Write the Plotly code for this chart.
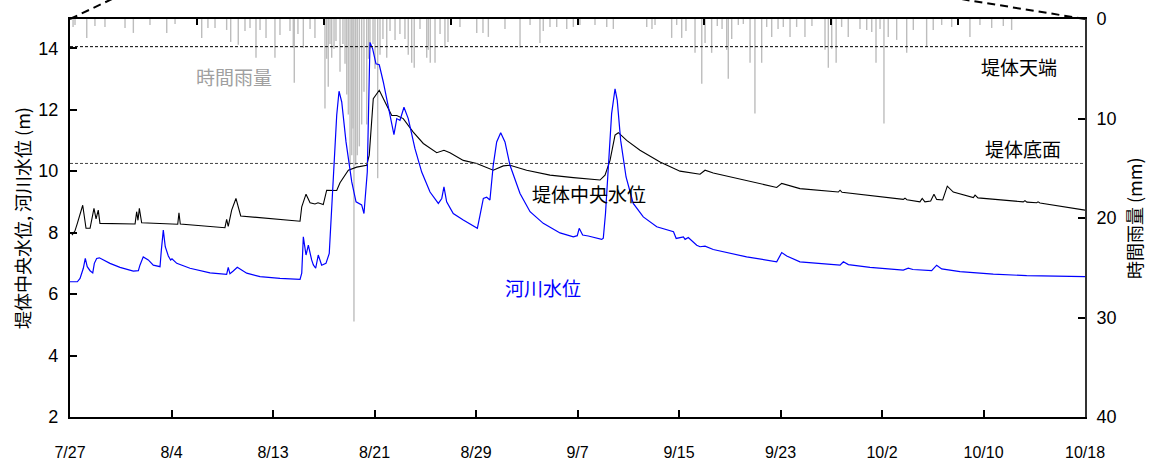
import plotly.graph_objects as go

# ---------------- data (days since 7/27 00:00) ----------------
x_tick_labels = ["7/27", "8/4", "8/13", "8/21", "8/29", "9/7", "9/15", "9/23", "10/2", "10/10", "10/18"]
period_days = 83.0

core_day = [0.16, 0.4, 0.6, 1.04, 1.31, 1.64, 1.96, 2.13, 2.31, 2.45, 5.32, 5.45, 5.56, 5.67, 5.86,
            8.81, 8.91, 9.02, 12.67, 12.81, 12.94, 13.22, 13.57, 13.84, 13.96, 18.81, 18.95, 19.30,
            19.63, 20.03, 20.28, 20.71, 20.99, 21.81, 22.08, 22.76, 23.44, 24.26, 24.47, 24.80,
            25.29, 25.76, 26.31, 26.72, 27.25, 28.07, 28.89, 29.99, 30.58, 31.07, 32.16, 33.26,
            34.61, 35.43, 35.98, 37.34, 39.25, 41.16, 43.34, 43.75, 44.16, 44.57, 44.84, 45.52,
            46.61, 48.25, 49.88, 51.52, 51.93, 52.60, 56.42, 57.79, 58.20, 59.69, 62.83, 62.97,
            63.13, 68.14, 68.28, 68.44, 69.50, 69.69, 69.91, 70.38, 70.65, 70.87, 71.36, 71.74,
            72.23, 73.87, 74.01, 74.25, 77.95, 78.09, 78.25, 79.05, 79.16, 79.32, 83.0]
core_level = [7.92, 8.05, 8.30, 8.89, 8.14, 8.14, 8.79, 8.45, 8.73, 8.30, 8.28, 8.68, 8.40, 8.79, 8.32,
              8.27, 8.64, 8.28, 8.16, 8.43, 8.20, 8.73, 9.11, 8.68, 8.54, 8.37, 8.84, 9.25,
              8.97, 8.93, 8.97, 8.91, 9.38, 9.37, 9.62, 10.03, 10.13, 10.19, 10.52, 12.36,
              12.63, 12.25, 11.81, 11.81, 11.71, 11.27, 10.90, 10.60, 10.68, 10.60, 10.35, 10.25,
              10.03, 10.17, 10.19, 10.03, 9.87, 9.79, 9.71, 9.87, 10.35, 11.17, 11.25, 11.00,
              10.68, 10.30, 10.00, 9.90, 10.03, 9.94, 9.60, 9.47, 9.60, 9.43, 9.32, 9.38,
              9.31, 9.08, 9.12, 9.07, 9.00, 9.11, 9.00, 9.03, 9.25, 9.08, 9.06, 9.51,
              9.32, 9.14, 9.22, 9.13, 9.00, 9.04, 8.99, 8.97, 9.00, 8.96, 8.73]

river_day = [0.0, 0.6, 0.82, 1.09, 1.25, 1.41, 1.64, 1.86, 1.99, 2.18, 2.40, 3.27, 4.09, 5.18, 5.59,
             5.72, 5.99, 6.40, 6.81, 7.36, 7.47, 7.63, 7.79, 8.04, 8.23, 8.34, 8.73, 9.81, 11.45,
             12.81, 12.94, 13.08, 13.35, 13.68, 14.45, 15.54, 17.17, 18.81, 18.95, 19.08, 19.30,
             19.49, 19.76, 19.90, 20.09, 20.30, 20.58, 20.93, 21.20, 21.53, 21.81, 22.00, 22.22,
             22.57, 23.04, 23.39, 23.58, 23.85, 24.04, 24.31, 24.53, 24.75, 25.02, 25.29, 25.62,
             26.17, 26.49, 26.72, 26.98, 27.31, 27.66, 28.21, 28.76, 29.44, 30.12, 30.40, 30.58,
             30.80, 31.34, 32.16, 33.12, 33.31, 33.53, 33.80, 34.07, 34.34, 34.61, 34.89, 35.22,
             35.57, 35.98, 36.80, 37.62, 38.70, 40.07, 41.16, 41.48, 41.64, 41.92, 42.38, 43.48,
             43.61, 43.79, 44.02, 44.29, 44.57, 44.75, 45.03, 45.47, 46.06, 46.88, 47.98, 49.35,
             49.57, 50.16, 50.30, 50.56, 51.25, 51.52, 51.93, 52.60, 55.33, 57.79, 58.20, 58.61,
             59.69, 62.97, 63.24, 63.65, 65.42, 68.14, 68.55, 68.93, 70.46, 70.87, 71.28, 72.78,
             75.50, 78.23, 83.0]
river_level = [6.40, 6.40, 6.51, 6.84, 7.16, 6.89, 6.76, 6.69, 7.00, 7.16, 7.18, 7.00, 6.87, 6.75, 6.76,
               6.94, 7.21, 7.11, 6.94, 6.89, 7.43, 8.08, 7.54, 7.24, 7.11, 7.15, 7.00, 6.84, 6.69,
               6.64, 6.87, 6.66, 6.75, 6.87, 6.68, 6.57, 6.51, 6.48, 6.68, 7.86, 7.27,
               7.59, 7.11, 6.95, 6.84, 7.27, 6.94, 7.00, 7.32, 9.65, 11.82, 12.60, 12.25,
               10.95, 9.65, 9.00, 8.95, 8.90, 8.62, 9.97, 14.19, 13.98, 13.49, 13.46, 12.90,
               11.81, 11.19, 11.71, 11.65, 12.08, 11.71, 10.73, 9.97, 9.32, 8.95, 9.11, 9.49,
               9.00, 8.62, 8.41, 8.19, 8.14, 8.57, 9.11, 9.15, 9.06, 10.19, 10.95, 11.25,
               10.95, 10.19, 9.27, 8.68, 8.30, 7.99, 7.86, 7.90, 8.14, 7.92, 7.89, 7.78,
               7.82, 8.62, 10.25, 11.87, 12.68, 12.30, 11.00, 9.81, 8.95, 8.51, 8.19, 8.03,
               7.81, 7.86, 7.78, 7.84, 7.59, 7.54, 7.56, 7.45, 7.21, 7.05, 7.35, 7.24,
               7.05, 6.94, 7.05, 6.96, 6.87, 6.78, 6.84, 6.80, 6.76, 6.94, 6.82, 6.73,
               6.65, 6.60, 6.57]

rain_day = [0.25, 0.41, 1.37, 2.04, 2.86, 4.50, 5.18, 6.54, 7.91, 8.59, 10.77, 11.28, 11.86, 12.81,
            13.14, 13.76, 14.31, 14.72, 15.21, 15.54, 16.03, 16.76, 17.17, 17.99, 18.26, 18.34,
            18.64, 19.08, 19.63, 20.03, 20.85, 20.99, 21.12, 21.26, 21.40, 21.59, 21.75, 22.08,
            22.32, 22.49, 22.63, 22.76, 22.90, 23.04, 23.14, 23.22, 23.36, 23.49, 23.66, 23.85,
            24.04, 24.26, 24.41, 24.53, 24.78, 24.94, 25.16, 25.35, 25.59, 25.90, 26.17, 26.58,
            26.98, 27.39, 27.66, 27.94, 28.15, 28.62, 29.17, 29.30, 29.46, 29.85, 30.26, 30.66,
            30.91, 31.89, 33.26, 33.77, 34.21, 35.57, 36.80, 37.62, 38.43, 38.70, 39.25, 39.80,
            40.62, 41.16, 41.70, 42.93, 43.89, 44.43, 47.16, 47.59, 47.84, 49.20, 49.61, 50.02,
            50.37, 51.11, 51.66, 51.93, 52.47, 52.93, 53.32, 53.70, 53.83, 54.11, 54.65, 55.06,
            55.61, 56.01, 56.56, 56.97, 57.38, 57.90, 58.33, 58.88, 59.42, 60.10, 60.67, 61.74,
            62.01, 62.29, 62.65, 63.10, 63.64, 64.60, 65.15, 65.56, 65.91, 66.24, 66.56, 66.91,
            67.60, 68.42, 68.96, 70.05, 70.59, 71.28, 72.10, 72.64, 73.59, 74.41, 75.37, 76.32,
            77.00]
rain_mm = [0.8, 0.6, 1.9, 0.7, 0.8, 0.9, 1.4, 0.6, 1.4, 0.5, 1.9, 0.9, 0.9, 1.1,
           2.3, 2.6, 1.2, 0.9, 3.9, 1.1, 1.9, 3.9, 1.6, 1.2, 2.9, 6.4,
           1.5, 2.9, 1.0, 1.9, 9.0, 4.0, 6.8, 2.5, 3.9, 3.0, 2.2, 5.3,
           2.5, 4.5, 7.6, 9.6, 14.7, 13.7, 11.0, 30.4, 14.7, 13.7, 12.8, 10.6,
           7.3, 10.6, 4.0, 3.0, 2.5, 5.0, 16.0, 3.6, 2.0, 3.9, 1.2, 2.1,
           1.5, 2.0, 3.6, 4.4, 4.9, 1.0, 3.9, 3.1, 4.4, 4.4, 1.5, 2.9,
           2.3, 0.8, 1.4, 1.4, 1.8, 1.0, 2.9, 0.6, 2.4, 1.2, 0.8, 0.8,
           1.0, 0.8, 0.6, 0.6, 0.8, 1.0, 0.8, 1.0, 0.6, 1.9, 0.6, 1.9,
           1.2, 3.4, 6.5, 2.4, 3.4, 0.7, 1.0, 3.1, 6.0, 2.0, 0.6, 0.5,
           4.4, 9.5, 4.4, 0.8, 1.8, 1.0, 0.8, 1.8, 0.8, 1.8, 0.7, 3.1,
           4.9, 3.0, 4.4, 0.8, 1.8, 1.0, 1.1, 1.3, 4.4, 1.0, 10.5, 1.8,
           2.1, 3.4, 1.1, 2.8, 1.1, 0.6, 0.8, 0.5, 1.8, 0.6, 0.9, 0.7,
           1.1]

crest_level = 14.05   # 堤体天端
base_level = 10.25    # 堤体底面

# ---------------- figure ----------------
W, H = 1151, 464
ML, MR, MT, MB = 70, 66, 19, 47
PW, PH = W - ML - MR, H - MT - MB

JP = "Noto Sans CJK JP"
NUM = "Liberation Sans, Arial"

fig = go.Figure()

# rainfall as thin vertical sticks hanging from the top (main subplot x / y(rain))
rx, ry = [], []
for d, v in zip(rain_day, rain_mm):
    rx += [d, d, None]
    ry += [0, v, None]
fig.add_trace(go.Scatter(x=rx, y=ry, mode="lines", line=dict(color="#bdbdbd", width=1.4),
                         xaxis="x", yaxis="y", hoverinfo="skip", showlegend=False))

# water levels on overlay axes (drawn on top)
fig.add_trace(go.Scatter(x=core_day, y=core_level, mode="lines", line=dict(color="#000000", width=1.1),
                         xaxis="x2", yaxis="y2", showlegend=False))
fig.add_trace(go.Scatter(x=river_day, y=river_level, mode="lines", line=dict(color="#0000ff", width=1.2),
                         xaxis="x2", yaxis="y2", showlegend=False))

n_bottom = len(x_tick_labels) - 1
bottom_vals = [period_days * i / n_bottom for i in range(n_bottom + 1)]
top_vals = [period_days * i / 8 for i in range(1, 8)]

fig.update_layout(
    width=W, height=H,
    margin=dict(l=ML, r=MR, t=MT, b=MB, pad=0, autoexpand=False),
    paper_bgcolor="white", plot_bgcolor="white",
    showlegend=False,
    xaxis=dict(range=[0, period_days], tickvals=bottom_vals, ticktext=x_tick_labels,
               ticks="inside", ticklen=7, tickwidth=1.5, tickcolor="#000",
               showline=True, linewidth=2.2, linecolor="#000", showgrid=False, zeroline=False,
               tickfont=dict(family=NUM, size=16, color="#000"), ticklabelstandoff=20,
               anchor="y", automargin=False),
    yaxis=dict(range=[40, 0], tickvals=[0, 10, 20, 30, 40], side="right",
               ticks="inside", ticklen=7, tickwidth=1.5, tickcolor="#000",
               showline=True, linewidth=1.6, linecolor="#333", showgrid=False, zeroline=False,
               tickfont=dict(family=NUM, size=18, color="#000"), ticklabelstandoff=6,
               anchor="x", automargin=False),
    xaxis2=dict(range=[0, period_days], overlaying="x", side="top", anchor="y2",
                tickvals=top_vals, showticklabels=False,
                ticks="inside", ticklen=6, tickwidth=1.5, tickcolor="#000",
                showline=True, linewidth=2.2, linecolor="#000", showgrid=False, zeroline=False,
                automargin=False),
    yaxis2=dict(range=[2, 14.95], tickvals=[2, 4, 6, 8, 10, 12, 14], overlaying="y", side="left",
                anchor="x2",
                ticks="inside", ticklen=7, tickwidth=1.5, tickcolor="#000",
                showline=True, linewidth=2.2, linecolor="#000", showgrid=False, zeroline=False,
                tickfont=dict(family=NUM, size=18, color="#000"), ticklabelstandoff=6,
                automargin=False),
)

# horizontal reference lines
fig.add_shape(type="line", xref="paper", yref="y2", x0=0, x1=1, y0=crest_level, y1=crest_level,
              line=dict(color="#000", width=1, dash="3px,2px"))
fig.add_shape(type="line", xref="paper", yref="y2", x0=0, x1=1, y0=base_level, y1=base_level,
              line=dict(color="#444", width=1, dash="3px,2px"))

# diagonal dashed leader lines above the plot corners
top_y = 1 + (MT + 2) / PH
fig.add_shape(type="line", xref="paper", yref="paper", x0=0, y0=1,
              x1=(110 + 40 * 2 / 19 - ML) / PW, y1=top_y,
              line=dict(color="#000", width=2, dash="8px,5px"))
fig.add_shape(type="line", xref="paper", yref="paper", x0=1, y0=1,
              x1=(967 - 118 * 2 / 19 - ML) / PW, y1=top_y,
              line=dict(color="#000", width=2, dash="8px,5px"))

def px_x(px):
    return (px - ML) / PW

def px_y(py):
    return 1 - (py - MT) / PH

ann = [
    dict(text="時間雨量", x=px_x(234), y=px_y(77), color="#a0a0a0"),
    dict(text="堤体天端", x=px_x(1019), y=px_y(67), color="#000"),
    dict(text="堤体底面", x=px_x(1023), y=px_y(148), color="#000"),
    dict(text="堤体中央水位", x=px_x(589), y=px_y(193), color="#000"),
    dict(text="河川水位", x=px_x(543), y=px_y(287), color="#0000ff"),
]
for a in ann:
    fig.add_annotation(text=a["text"], x=a["x"], y=a["y"], xref="paper", yref="paper",
                       showarrow=False, xanchor="center", yanchor="middle",
                       font=dict(family=JP, size=19, color=a["color"]))

fig.add_annotation(text="堤体中央水位, 河川水位 (m)", x=px_x(22), y=0.5, xref="paper", yref="paper",
                   showarrow=False, textangle=-90, xanchor="center", yanchor="middle",
                   font=dict(family=JP, size=18, color="#000"))
fig.add_annotation(text="時間雨量 (mm)", x=px_x(1134), y=0.5, xref="paper", yref="paper",
                   showarrow=False, textangle=-90, xanchor="center", yanchor="middle",
                   font=dict(family=JP, size=18, color="#000"))

fig.write_html("out.html")
